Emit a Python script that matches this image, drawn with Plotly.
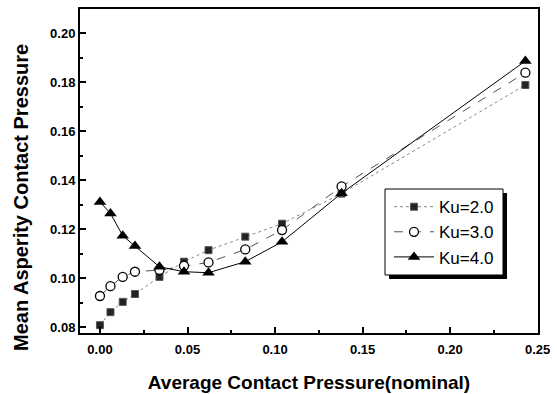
import plotly.graph_objects as go

x_vals = [0.0, 0.006, 0.013, 0.020, 0.034, 0.048, 0.062, 0.083, 0.104, 0.138, 0.243]
ku2 = [0.0808, 0.0861, 0.0903, 0.0935, 0.1005, 0.1067, 0.1114, 0.1169, 0.1222, 0.1345, 0.1788]
ku3 = [0.0927, 0.0967, 0.1005, 0.1026, 0.1033, 0.1050, 0.1064, 0.1117, 0.1196, 0.1374, 0.1838]
ku4 = [0.1311, 0.1264, 0.1173, 0.1131, 0.1046, 0.1026, 0.1022, 0.1067, 0.1148, 0.1346, 0.1886]

x_ticks = [0.00, 0.05, 0.10, 0.15, 0.20, 0.25]
x_tick_labels = ["0.00", "0.05", "0.10", "0.15", "0.20", "0.25"]
y_ticks = [0.08, 0.10, 0.12, 0.14, 0.16, 0.18, 0.20]
y_tick_labels = ["0.08", "0.10", "0.12", "0.14", "0.16", "0.18", "0.20"]

fig = go.Figure()
fig.add_trace(go.Scatter(
    x=x_vals, y=ku2, name="Ku=2.0", mode="lines+markers",
    line=dict(color="#888888", width=1, dash="dot"),
    marker=dict(symbol="square", size=7, color="#222222",
                line=dict(color="#555555", width=1)),
))
fig.add_trace(go.Scatter(
    x=x_vals, y=ku3, name="Ku=3.0", mode="lines+markers",
    line=dict(color="#555555", width=1, dash="dash"),
    marker=dict(symbol="circle", size=9, color="white",
                line=dict(color="black", width=1.3)),
))
fig.add_trace(go.Scatter(
    x=x_vals, y=ku4, name="Ku=4.0", mode="lines+markers",
    line=dict(color="black", width=1),
    marker=dict(symbol="triangle-up", size=11, color="black"),
))

# legend frame with drop shadow
fig.add_shape(type="rect", xref="paper", yref="paper",
              x0=0.6747, x1=0.9323, y0=0.1667, y1=0.4321,
              fillcolor="black", line=dict(width=0), layer="above")
fig.add_shape(type="rect", xref="paper", yref="paper",
              x0=0.666, x1=0.9236, y0=0.179, y1=0.4444,
              fillcolor="white", line=dict(color="black", width=1), layer="above")

# y-axis title as annotation (sits below plot centre as in reference)
fig.add_annotation(text="Mean Asperity Contact Pressure", xref="paper", yref="paper",
                   x=-0.1288, y=0.4167, xanchor="center", yanchor="middle",
                   textangle=-90, showarrow=False,
                   font=dict(size=20, weight="bold"))

fig.update_layout(
    width=557, height=394,
    margin=dict(l=80, r=19, t=9, b=61),
    plot_bgcolor="white", paper_bgcolor="white",
    font=dict(family="Liberation Sans, Arial, sans-serif", color="black"),
    showlegend=True,
    legend=dict(x=0.6747, y=0.444, xanchor="left", yanchor="top",
                bgcolor="rgba(0,0,0,0)", borderwidth=0,
                font=dict(size=17), itemwidth=40, tracegroupgap=0),
    xaxis=dict(
        range=[-0.0114, 0.2502], tickvals=x_ticks, ticktext=x_tick_labels,
        ticks="inside", ticklen=6, tickwidth=1.5, tickcolor="black",
        minor=dict(dtick=0.025, tick0=0, ticks="inside", ticklen=3, tickcolor="black"),
        showline=True, linecolor="black", linewidth=2, mirror=True,
        showgrid=False, zeroline=False, automargin=False,
        tickfont=dict(size=13, weight="bold"), ticklabelstandoff=3,
        title=dict(text="Average Contact Pressure(nominal)",
                   font=dict(size=19, weight="bold"), standoff=20),
    ),
    yaxis=dict(
        range=[0.0776, 0.2098], tickvals=y_ticks, ticktext=y_tick_labels,
        ticks="inside", ticklen=6, tickwidth=1.5, tickcolor="black",
        minor=dict(dtick=0.01, tick0=0.08, ticks="inside", ticklen=3, tickcolor="black"),
        showline=True, linecolor="black", linewidth=2, mirror=True,
        showgrid=False, zeroline=False, automargin=False,
        tickfont=dict(size=13, weight="bold"),
    ),
)

fig.write_html("out.html", post_script="document.body.style.margin='0';",
               config={"displayModeBar": False})
